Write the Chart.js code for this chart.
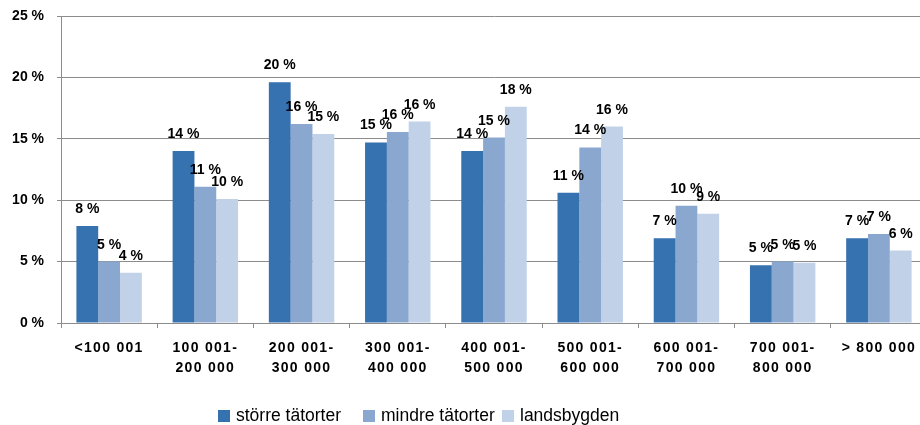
<!DOCTYPE html>
<html><head><meta charset="utf-8">
<script src="https://cdn.jsdelivr.net/npm/chart.js@4.4.0/dist/chart.umd.min.js"></script>
<style>html,body{margin:0;padding:0;background:#fff;overflow:hidden;width:920px;height:425px}#wrap{width:927px;height:425px}</style>
</head><body><div id="wrap"><canvas id="c" width="927" height="425"></canvas></div>
<script>
const categories = [['<100 001'], ['100 001-','200 000'], ['200 001-','300 000'], ['300 001-','400 000'], ['400 001-','500 000'], ['500 001-','600 000'], ['600 001-','700 000'], ['700 001-','800 000'], ['> 800 000']];
const storreTatorter = [7.9, 14.0, 19.6, 14.7, 14.0, 10.6, 6.9, 4.7, 6.9];
const mindreTatorter = [5.0, 11.1, 16.2, 15.55, 15.1, 14.3, 9.55, 5.0, 7.25];
const landsbygden   = [4.1, 10.1, 15.4, 16.4, 17.6, 16.0, 8.9, 4.9, 5.9];
const seriesNames = ['större tätorter', 'mindre tätorter', 'landsbygden'];
const yMin = 0, yMax = 25, yStep = 5;

const colors = ['#3671B0', '#89A7CF', '#C1D2E8'];
const FONT = '"Liberation Sans", Arial, sans-serif';

const dataLabels = {
  id: 'dataLabels',
  afterDatasetsDraw(chart) {
    const ctx = chart.ctx;
    ctx.save();
    ctx.font = 'bold 14px ' + FONT;
    ctx.fillStyle = '#000';
    ctx.textAlign = 'center';
    ctx.textBaseline = 'alphabetic';
    chart.data.datasets.forEach((ds, i) => {
      chart.getDatasetMeta(i).data.forEach((bar, j) => {
        ctx.fillText(Math.round(ds.data[j]) + ' %', bar.x, bar.y - 13);
      });
    });
    ctx.restore();
  }
};

const spacedX = {
  id: 'spacedX',
  beforeDraw(chart) {
    const xs = chart.scales.x;
    if (xs && !xs._spaced) {
      const orig = xs.drawLabels.bind(xs);
      xs.drawLabels = function (area) {
        const c = this.ctx; c.save(); c.letterSpacing = '1.3px'; orig(area); c.restore();
      };
      xs._spaced = true;
    }
  }
};

const customLegend = {
  id: 'customLegend',
  afterDraw(chart) {
    const ctx = chart.ctx;
    ctx.save();
    ctx.font = '17.5px ' + FONT;
    ctx.textBaseline = 'middle';
    ctx.textAlign = 'left';
    const starts = [218, 363, 502];
    chart.data.datasets.forEach((ds, i) => {
      const x = starts[i];
      ctx.fillStyle = ds.backgroundColor;
      ctx.fillRect(x, 410, 12, 12);
      ctx.fillStyle = '#000';
      ctx.fillText(ds.label, x + 18, 416);
    });
    ctx.restore();
  }
};

new Chart(document.getElementById('c'), {
  type: 'bar',
  data: {
    labels: categories,
    datasets: [
      { label: seriesNames[0], data: storreTatorter, backgroundColor: colors[0] },
      { label: seriesNames[1], data: mindreTatorter, backgroundColor: colors[1] },
      { label: seriesNames[2], data: landsbygden, backgroundColor: colors[2] }
    ]
  },
  options: {
    responsive: false,
    animation: false,
    devicePixelRatio: 1,
    layout: { padding: { top: 16, left: 0, right: 0, bottom: 0 } },
    datasets: { bar: { categoryPercentage: 0.68, barPercentage: 1.0 } },
    plugins: { legend: { display: false }, tooltip: { enabled: false } },
    scales: {
      x: {
        afterFit: s => { s.height = 102; s.paddingLeft = 0; s.paddingRight = 0; },
        grid: { offset: true, drawOnChartArea: false, tickLength: 5, color: '#8c8c8c' },
        border: { color: '#8c8c8c' },
        ticks: { color: '#000', font: { family: FONT, size: 14, weight: 'bold', lineHeight: 1.45 }, padding: 10, maxRotation: 0, autoSkip: false }
      },
      y: {
        min: yMin, max: yMax,
        afterFit: s => { s.width = 61; s.paddingTop = 0; s.paddingBottom = 0; },
        grid: { color: '#8c8c8c', tickLength: 4 },
        border: { color: '#8c8c8c' },
        ticks: { stepSize: yStep, color: '#000', padding: 13, font: { family: FONT, size: 14, weight: 'bold' }, callback: v => v + ' %' }
      }
    }
  },
  plugins: [dataLabels, spacedX, customLegend]
});
</script>
</body></html>
